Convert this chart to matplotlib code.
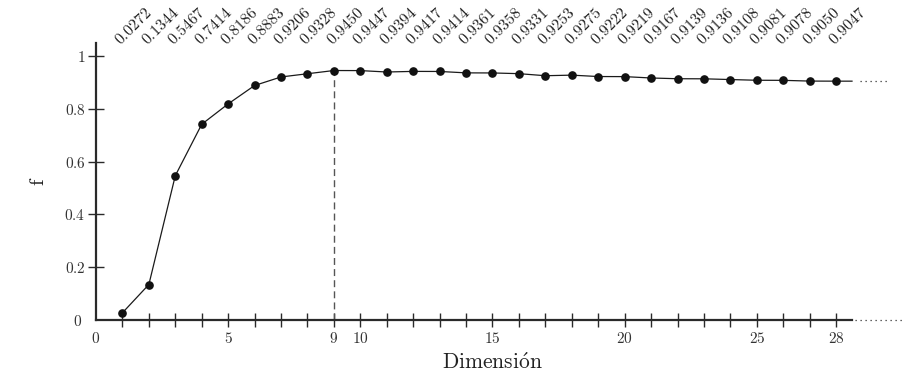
import matplotlib
matplotlib.use("Agg")
import matplotlib.pyplot as plt
import matplotlib.transforms as mtransforms
import numpy as np

plt.rcParams['mathtext.fontset'] = 'cm'
plt.rcParams['font.family'] = ['DejaVu Serif']

dims = list(range(1, 29))
f_vals = [0.0272, 0.1344, 0.5467, 0.7414, 0.8186, 0.8883, 0.9206, 0.9328,
          0.9450, 0.9447, 0.9394, 0.9417, 0.9414, 0.9361, 0.9358, 0.9331,
          0.9253, 0.9275, 0.9222, 0.9219, 0.9167, 0.9139, 0.9136, 0.9108,
          0.9081, 0.9078, 0.9050, 0.9047]
best_dim = 9
xtick_labels = [0, 5, 9, 10, 15, 20, 25, 28]
ytick_vals = [0, 0.2, 0.4, 0.6, 0.8, 1]
ytick_text = ['0', '0.2', '0.4', '0.6', '0.8', '1']

W, H = 904, 374
fig = plt.figure(figsize=(W / 100, H / 100), dpi=100)
x0, x1 = 96, 889
y_top, y_bot = 43, 320
ax = fig.add_axes([x0 / W, (H - y_bot) / H, (x1 - x0) / W, (y_bot - y_top) / H])
ax.set_xlim(0, 30)
ax.set_ylim(0, (y_bot - y_top) / 264)

axc = '#2a2a2a'
# curve, with a short flat run past the last point and then dots
ax.plot(dims + [28.6], f_vals + [f_vals[-1]], color='#1a1a1a', lw=0.9,
        clip_on=False, zorder=3)
ax.plot(dims, f_vals, 'o', color='#111111', ms=5.2, clip_on=False, zorder=4)
ax.plot([28.9, 30.0], [f_vals[-1]] * 2, ls=(0, (1, 3)), color='#333333',
        lw=0.9, clip_on=False)
ax.plot([28.7, 30.6], [0, 0], ls=(0, (1, 3)), color='#333333', lw=0.9,
        clip_on=False)

# best dimension
ax.plot([best_dim, best_dim], [0, f_vals[best_dim - 1]], color='#555555',
        lw=1.0, dashes=(5, 3), zorder=2)

# value labels on top
trans = mtransforms.blended_transform_factory(ax.transData, ax.transAxes)
for d, v in zip(dims, f_vals):
    ax.annotate(r'$%.4f$' % v, xy=(d, 1.0), xycoords=trans,
                xytext=(1, -4), textcoords='offset points',
                rotation=45, rotation_mode='anchor', ha='left', va='bottom',
                fontsize=11.5, color='#222222', annotation_clip=False)

for s in ['top', 'right']:
    ax.spines[s].set_visible(False)
ax.spines['left'].set_linewidth(1.6)
ax.spines['bottom'].set_linewidth(1.6)
ax.spines['left'].set_color(axc)
ax.spines['bottom'].set_color(axc)
ax.spines['bottom'].set_bounds(0, 28.6)

ax.set_xticks(dims)
ax.set_xticklabels([r'$%d$' % d if d in xtick_labels else '' for d in dims])
ax.set_xticks([0], minor=True)
ax.set_xticklabels([r'$0$'], minor=True)
ax.tick_params(axis='x', which='minor', length=0, pad=8, labelsize=11,
               labelcolor='#333333')
ax.tick_params(axis='x', which='major', direction='inout', length=10,
               width=1.0, color=axc, pad=3, labelsize=11, labelcolor='#333333')

ax.set_yticks(ytick_vals[1:])
ax.set_yticklabels([r'$%s$' % t for t in ytick_text[1:]])
ax.set_yticks([0], minor=True)
ax.set_yticklabels([r'$0$'], minor=True)
ax.tick_params(axis='y', which='major', direction='inout', length=11,
               width=1.0, color=axc, pad=2, labelsize=11, labelcolor='#333333')
ax.tick_params(axis='y', which='minor', length=0, pad=10, labelsize=11,
               labelcolor='#333333')

ax.set_xlabel(r'$\mathrm{Dimensi\acute{o}n}$', fontsize=15.5, color='#222222',
              labelpad=4)
ax.set_ylabel(r'$\mathrm{f}$', fontsize=15, color='#222222', labelpad=12)

fig.savefig('out.png', dpi=100)
